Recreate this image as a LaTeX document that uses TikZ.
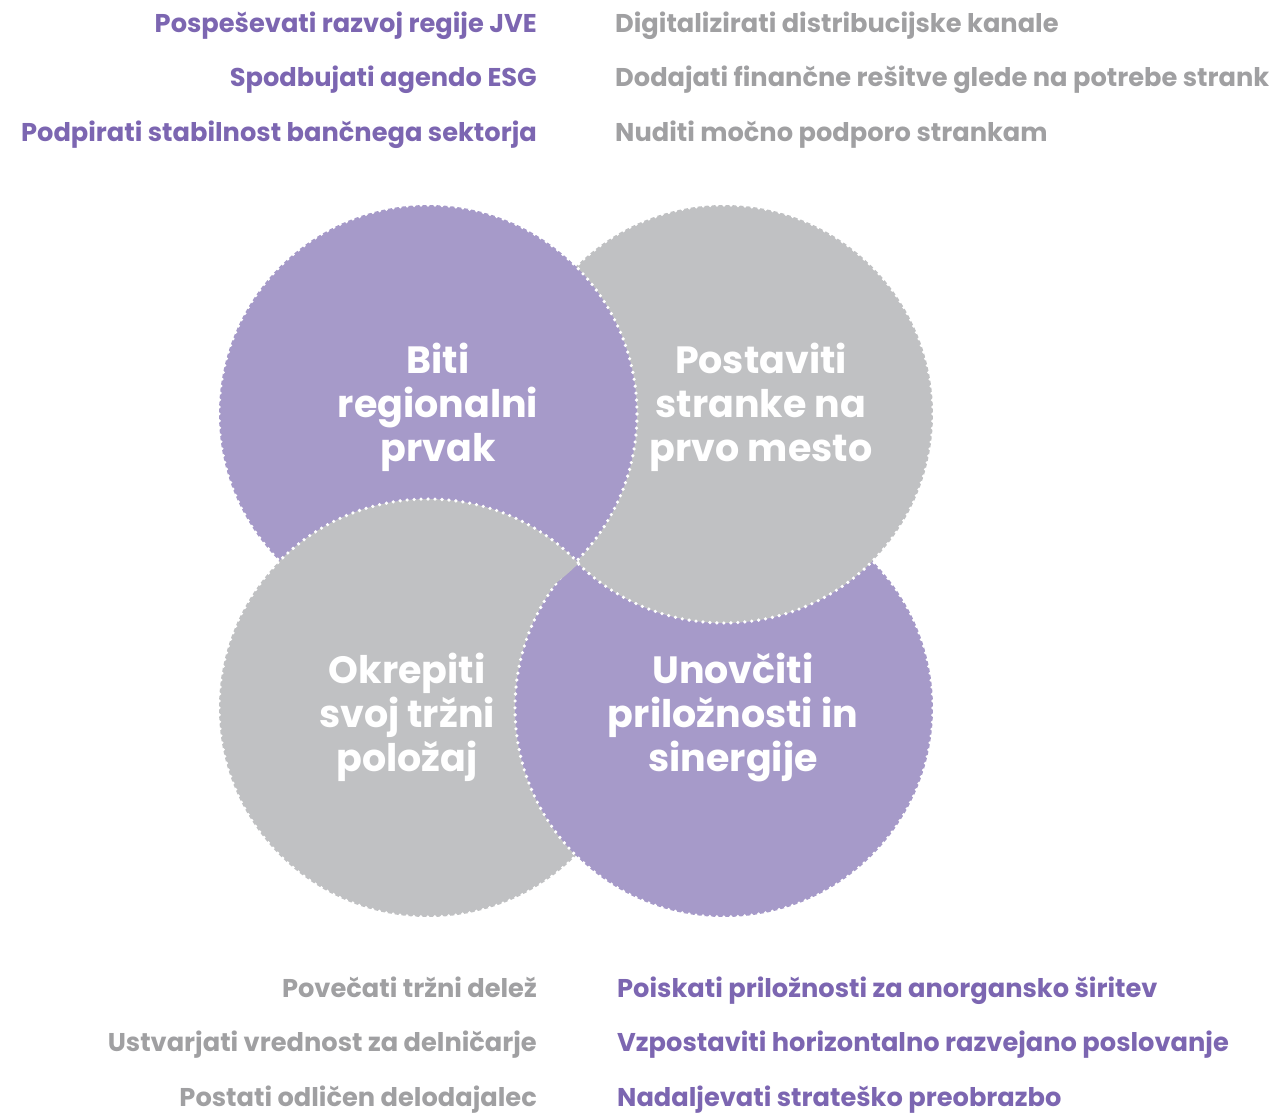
\documentclass[tikz,border=0pt]{standalone}
\usepackage{fontspec}
\setmainfont{Poppins}
\usetikzlibrary{positioning}

\definecolor{lilac}{HTML}{A69AC9}
\definecolor{silver}{HTML}{C0C1C3}
\definecolor{lilacink}{HTML}{7C66B1}
\definecolor{silverink}{HTML}{A0A0A2}

\tikzset{
    rim/.style={white, line width=3.6pt, line cap=round, dash pattern=on 0pt off 6.985pt},
    goal/.style={font=\fontsize{25.7}{30}\selectfont\bfseries, inner sep=0pt},
    pillar/.style={white, align=center, inner sep=0pt, font=\fontsize{38}{44}\selectfont\bfseries}
}

\begin{document}
\begin{tikzpicture}[x=1pt, y=-1pt]
    \useasboundingbox (0,0) rectangle (1277,1114);

    % Centres of the four circles
    \coordinate (tl) at (428,414);
    \coordinate (tr) at (724,414);
    \coordinate (bl) at (428,708);
    \coordinate (br) at (724,708);

    % Draw the circles (bottom left, bottom right, top right, top left)
    \fill[silver] (bl) circle[radius=209pt];
    \draw[rim] (bl) circle[radius=209pt];
    \fill[lilac] (br) circle[radius=209pt];
    \draw[rim] (br) circle[radius=209pt];
    \fill[silver] (tr) circle[radius=209pt];
    \draw[rim] (tr) circle[radius=209pt];
    \fill[lilac] (tl) circle[radius=209pt];
    \draw[rim] (tl) circle[radius=209pt];

    % Bottom left lies over top left
    \begin{scope}
        \clip (tl) circle[radius=212pt];
        \fill[silver] (bl) circle[radius=209pt];
        \draw[rim] (bl) circle[radius=209pt];
    \end{scope}

    % Labels in the circles
    \node[pillar] (champ) at (438,407) {Biti\\regionalni\\prvak};
    \node[pillar] (client) at (761,407) {Postaviti\\stranke na\\prvo mesto};
    \node[pillar] (market) at (407,717) {Okrepiti\\svoj tržni\\položaj};
    \node[pillar] (synergy) at (733,717) {Unovčiti\\priložnosti in\\sinergije};

    % Goals above
    \foreach \txt [count=\i] in {Pospeševati razvoj regije JVE, Spodbujati agendo ESG, Podpirati stabilnost bančnega sektorja}
        \node[goal, lilacink, anchor=base east] (nw\i) at (537,{32+54.5*(\i-1)}) {\txt};
    \foreach \txt [count=\i] in {Digitalizirati distribucijske kanale, Dodajati finančne rešitve glede na potrebe strank, Nuditi močno podporo strankam}
        \node[goal, silverink, anchor=base west] (ne\i) at (615,{32+54.5*(\i-1)}) {\txt};

    % Goals below
    \foreach \txt [count=\i] in {Povečati tržni delež, Ustvarjati vrednost za delničarje, Postati odličen delodajalec}
        \node[goal, silverink, anchor=base east] (sw\i) at (537,{997+54.5*(\i-1)}) {\txt};
    \foreach \txt [count=\i] in {Poiskati priložnosti za anorgansko širitev, Vzpostaviti horizontalno razvejano poslovanje, Nadaljevati strateško preobrazbo}
        \node[goal, lilacink, anchor=base west] (se\i) at (617,{997+54.5*(\i-1)}) {\txt};
\end{tikzpicture}
\end{document}
